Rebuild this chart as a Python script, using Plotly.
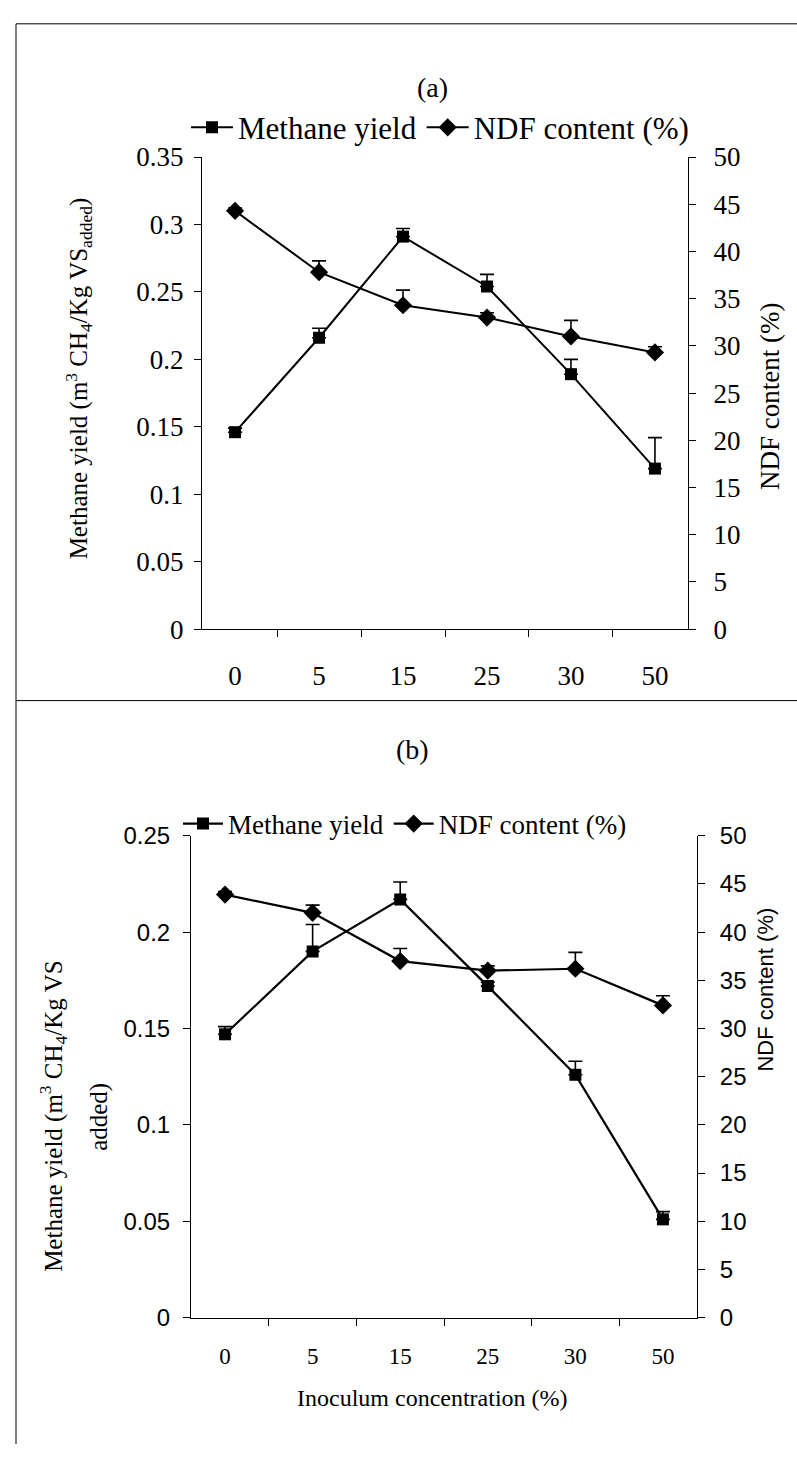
import plotly.graph_objects as go

W, H = 797, 1459

categories = ["0", "5", "15", "25", "30", "50"]

methane_a = [0.146, 0.216, 0.291, 0.254, 0.189, 0.119]
methane_a_err = [0.003, 0.007, 0.006, 0.009, 0.011, 0.023]
ndf_a = [44.3, 37.8, 34.3, 33.0, 31.0, 29.3]
ndf_a_err = [0.3, 1.2, 1.6, 0.5, 1.7, 0.6]

methane_b = [0.147, 0.190, 0.217, 0.172, 0.126, 0.051]
methane_b_err = [0.004, 0.014, 0.009, 0.002, 0.007, 0.004]
ndf_b = [43.9, 42.0, 37.0, 36.0, 36.2, 32.4]
ndf_b_err = [0.3, 0.8, 1.3, 0.5, 1.7, 1.0]

SERIF = "Liberation Serif"
SANS = "Liberation Sans"


def px(x):
    return x / W


def py(y):
    return 1 - y / H


def err(vals):
    return dict(type="data", array=vals, arrayminus=[0] * len(vals), symmetric=False,
                color="black", thickness=1.6, width=7, visible=True)


fig = go.Figure()

# Panel (a)
fig.add_trace(go.Scatter(x=categories, y=methane_a, name="Methane yield", mode="lines+markers",
                         line=dict(color="black", width=2),
                         marker=dict(symbol="square", size=12, color="black"),
                         error_y=err(methane_a_err), xaxis="x", yaxis="y", legend="legend"))
fig.add_trace(go.Scatter(x=categories, y=ndf_a, name="NDF content (%)", mode="lines+markers",
                         line=dict(color="black", width=2),
                         marker=dict(symbol="diamond", size=14, color="black"),
                         error_y=err(ndf_a_err), xaxis="x", yaxis="y2", legend="legend"))

# Panel (b)
fig.add_trace(go.Scatter(x=categories, y=methane_b, name="Methane yield", mode="lines+markers",
                         line=dict(color="black", width=2.2),
                         marker=dict(symbol="square", size=12, color="black"),
                         error_y=err(methane_b_err), xaxis="x2", yaxis="y3", legend="legend2"))
fig.add_trace(go.Scatter(x=categories, y=ndf_b, name="NDF content (%)", mode="lines+markers",
                         line=dict(color="black", width=2.2),
                         marker=dict(symbol="diamond", size=14, color="black"),
                         error_y=err(ndf_b_err), xaxis="x2", yaxis="y4", legend="legend2"))

axis_common = dict(showline=True, linecolor="black", linewidth=1, ticks="outside",
                   tickcolor="black", ticklen=7, showgrid=False, zeroline=False)

xa_dom = [px(202), px(688)]
ya_dom = [py(627), py(145)]
xb_dom = [px(191), px(697)]
yb_dom = [py(1330), py(838)]

fig.update_layout(
    width=W, height=H,
    margin=dict(l=0, r=0, t=0, b=0),
    paper_bgcolor="white", plot_bgcolor="white",
    showlegend=True,
    xaxis=dict(domain=xa_dom, anchor="y", type="category", tickson="boundaries",
               categoryorder="array", categoryarray=categories, ticklabelstandoff=22,
               tickfont=dict(family=SERIF, size=27, color="black"), **axis_common),
    yaxis=dict(domain=ya_dom, anchor="x", range=[0, 0.35], dtick=0.05, tick0=0,
               ticklabelstandoff=5,
               tickfont=dict(family=SERIF, size=27, color="black"), **axis_common),
    yaxis2=dict(domain=ya_dom, anchor="x", overlaying="y", side="right", range=[0, 50], dtick=5,
                ticklabelstandoff=12,
                tickfont=dict(family=SERIF, size=27, color="black"), **axis_common),
    xaxis2=dict(domain=xb_dom, anchor="y3", type="category", tickson="boundaries",
                categoryorder="array", categoryarray=categories, ticklabelstandoff=18,
                tickfont=dict(family=SERIF, size=23, color="black"), **axis_common),
    yaxis3=dict(domain=yb_dom, anchor="x2", range=[0, 0.25], dtick=0.05, tick0=0,
                ticklabelstandoff=8,
                tickfont=dict(family=SANS, size=24, color="black"), **axis_common),
    yaxis4=dict(domain=yb_dom, anchor="x2", overlaying="y3", side="right", range=[0, 50], dtick=5,
                ticklabelstandoff=10,
                tickfont=dict(family=SANS, size=24, color="black"), **axis_common),
    legend=dict(orientation="h", x=px(186), y=py(115), xanchor="left", yanchor="middle",
                font=dict(family=SERIF, size=31, color="black"), bgcolor="rgba(0,0,0,0)",
                itemwidth=42, tracegroupgap=0),
    legend2=dict(orientation="h", x=px(178), y=py(826), xanchor="left", yanchor="middle",
                 font=dict(family=SERIF, size=27, color="black"), bgcolor="rgba(0,0,0,0)",
                 itemwidth=40, tracegroupgap=0),
)

ann = dict(xref="paper", yref="paper", showarrow=False, xanchor="center", yanchor="middle")
annotations = [
    dict(ann, text="(a)", x=px(432), y=py(74), font=dict(family=SERIF, size=28, color="black")),
    dict(ann, text="(b)", x=px(412), y=py(750), font=dict(family=SERIF, size=28, color="black")),
    dict(ann, text="Methane yield (m<sup>3</sup> CH<sub>4</sub>/Kg VS<sub>added</sub>)",
         x=px(79), y=py(371), textangle=-90, font=dict(family=SERIF, size=25, color="black")),
    dict(ann, text="NDF content (%)", x=px(770), y=py(390), textangle=-90,
         font=dict(family=SERIF, size=27, color="black")),
    dict(ann, text="Methane yield (m<sup>3</sup> CH<sub>4</sub>/Kg VS",
         x=px(53), y=py(1125), textangle=-90, font=dict(family=SERIF, size=25, color="black")),
    dict(ann, text="added)", x=px(99), y=py(1125), textangle=-90,
         font=dict(family=SERIF, size=25, color="black")),
    dict(ann, text="NDF content (%)", x=px(766), y=py(995), textangle=-90,
         font=dict(family=SANS, size=22, color="black")),
    dict(ann, text="Inoculum concentration (%)", x=px(432), y=py(1412),
         font=dict(family=SERIF, size=24, color="black")),
]
fig.update_layout(annotations=annotations)

frame = dict(type="line", xref="paper", yref="paper", line=dict(color="black", width=1))
fig.update_layout(shapes=[
    dict(frame, x0=px(16), x1=1, y0=py(9), y1=py(9)),
    dict(frame, x0=px(16), x1=px(16), y0=py(9), y1=0),
    dict(frame, x0=px(16), x1=1, y0=py(700), y1=py(700)),
])

fig.write_html("out.html", config={"displayModeBar": False},
               post_script="document.body.style.margin='0px';document.body.style.overflow='hidden';")
